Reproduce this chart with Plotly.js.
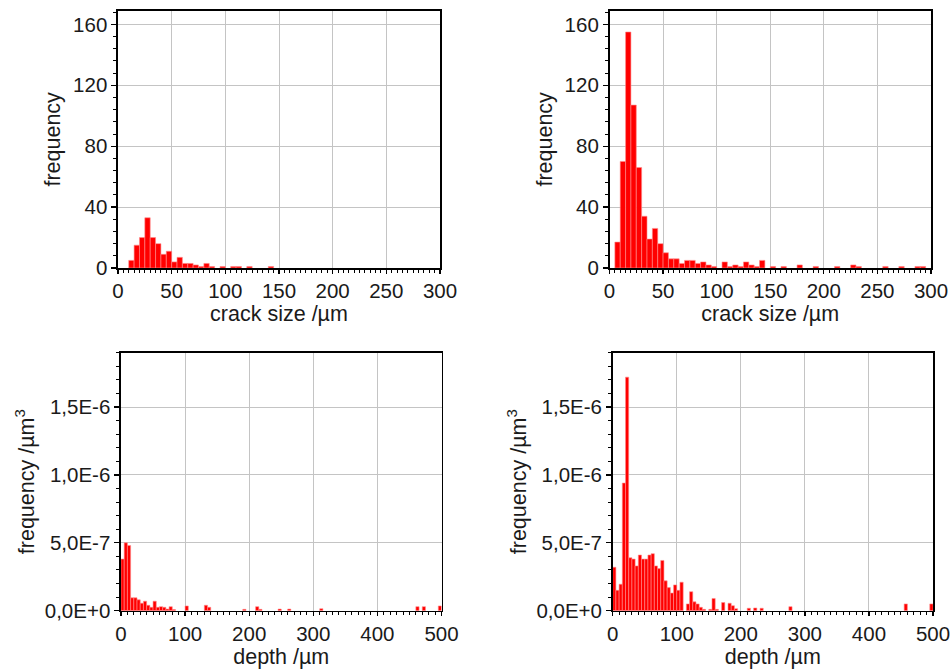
<!DOCTYPE html>
<html>
<head>
<meta charset="utf-8">
<script src="https://cdn.plot.ly/plotly-3.0.1.min.js"></script>
<style>html,body{margin:0;padding:0;background:#fff;}#chart{width:952px;height:669px;}</style>
</head>
<body>
<div id="chart"></div>
<script>
// Top-left: crack size histogram (bin centers, 5 µm bins)
const tlSize = [12.5,17.5,22.5,27.5,32.5,37.5,42.5,47.5,52.5,57.5,62.5,67.5,72.5,77.5,82.5,87.5,97.5,107.5,112.5,122.5,142.5];
const tlFreq = [5,15,20,33,20,16,9,11,4,7,3,3,2,1,3,1,1,1,1,1,1];

// Top-right: crack size histogram
const trSize = [7.5,12.5,17.5,22.5,27.5,32.5,37.5,42.5,47.5,52.5,57.5,62.5,67.5,72.5,77.5,82.5,87.5,92.5,97.5,107.5,112.5,117.5,122.5,127.5,132.5,137.5,142.5,152.5,162.5,177.5,192.5,212.5,227.5,232.5,257.5,272.5,287.5,292.5];
const trFreq = [17,70,155,107,66,34,19,26,16,10,6,6,3,5,5,3,4,2,1,4,1,2,1,4,2,1,5,1,1,2,1,1,2,1,1,1,1,1];

// Bottom-left: depth histogram (frequency per µm³)
const blDepth = [2.5,7.5,12.5,17.5,22.5,27.5,32.5,37.5,42.5,47.5,52.5,57.5,62.5,67.5,72.5,77.5,82.5,102.5,132.5,137.5,192.5,212.5,217.5,247.5,262.5,312.5,462.5,472.5,497.5];
const blFreq = [3.8e-7,5.0e-7,4.8e-7,9.5e-8,9.5e-8,8e-8,5.5e-8,7e-8,4e-8,2.5e-8,7e-8,2.5e-8,3e-8,2.5e-8,1.2e-8,3e-8,8e-9,3.5e-8,4e-8,2.5e-8,1e-8,3e-8,1e-8,1.2e-8,1.2e-8,1.5e-8,3e-8,3e-8,3.5e-8];

// Bottom-right: depth histogram
const brDepth = [2.5,7.5,12.5,17.5,22.5,27.5,32.5,37.5,42.5,47.5,52.5,57.5,62.5,67.5,72.5,77.5,82.5,87.5,92.5,97.5,102.5,107.5,117.5,122.5,127.5,132.5,137.5,142.5,152.5,157.5,162.5,172.5,182.5,187.5,192.5,212.5,222.5,232.5,277.5,457.5,497.5];
const brFreq = [3.2e-7,1.5e-7,1.95e-7,9.4e-7,1.72e-6,3.9e-7,3.8e-7,3.3e-7,4.1e-7,3.8e-7,3.8e-7,4.1e-7,4.2e-7,3.3e-7,3.1e-7,3.7e-7,2.2e-7,1.7e-7,1.3e-7,1.9e-7,1.5e-7,2.1e-7,5e-8,1.4e-7,6.5e-8,5e-8,2.5e-8,1e-8,1e-8,9e-8,1e-8,6e-8,5.5e-8,3.7e-8,1.5e-8,1.8e-8,2e-8,1.8e-8,3e-8,5e-8,5e-8];

// Tick labels
const sizeTicks = [0,50,100,150,200,250,300];
const freqTicks = [0,40,80,120,160];
const depthTicks = [0,100,200,300,400,500];
const densTickVals = [0,5e-7,1e-6,1.5e-6];
const densTickText = ['0,0E+0','5,0E-7','1,0E-6','1,5E-6'];

const W = 952, H = 669;
const TICKFONT = {family: 'Liberation Sans, Arial, sans-serif', size: 20.5, color: '#1a1a1a'};
const TITLEFONT = {family: 'Liberation Sans, Arial, sans-serif', size: 21.5, color: '#1a1a1a'};

function dx(a, b) { return [a / W, b / W]; }
function dy(top, bottom) { return [1 - bottom / H, 1 - top / H]; }

function barTrace(x, y, xa, ya) {
  return {
    type: 'bar', x: x, y: y, width: 5, xaxis: xa, yaxis: ya,
    marker: {color: '#ff0000', line: {color: '#ff8c8c', width: 0.6}},
    hoverinfo: 'x+y', showlegend: false
  };
}

function xAxis(domain, anchor, ticks, maxv, minorStep, title) {
  return {
    domain: domain, anchor: anchor, range: [0, maxv],
    tickmode: 'array', tickvals: ticks, ticktext: ticks.map(String),
    ticks: 'outside', ticklen: 4, tickwidth: 1.3, tickcolor: '#000',
    minor: {dtick: minorStep, tick0: 0, ticks: 'outside', ticklen: 3, tickwidth: 1, tickcolor: '#000', showgrid: false},
    showline: true, linecolor: '#000', linewidth: 1.6, mirror: true,
    showgrid: true, gridcolor: '#c4c4c4', gridwidth: 1,
    zeroline: false, tickfont: TICKFONT,
    title: {text: title, font: TITLEFONT, standoff: 5}
  };
}

function yAxis(domain, anchor, tickvals, ticktext, maxv, minorStep, title, standoff) {
  return {
    domain: domain, anchor: anchor, range: [0, maxv],
    tickmode: 'array', tickvals: tickvals, ticktext: ticktext,
    ticks: 'outside', ticklen: 5, tickwidth: 1.3, tickcolor: '#000',
    minor: {dtick: minorStep, tick0: 0, ticks: 'outside', ticklen: 3, tickwidth: 1, tickcolor: '#000', showgrid: false},
    showline: true, linecolor: '#000', linewidth: 1.6, mirror: true,
    showgrid: true, gridcolor: '#c4c4c4', gridwidth: 1,
    zeroline: false, tickfont: TICKFONT,
    title: {text: title, font: TITLEFONT, standoff: standoff}
  };
}

const data = [
  barTrace(tlSize, tlFreq, 'x', 'y'),
  barTrace(trSize, trFreq, 'x2', 'y2'),
  barTrace(blDepth, blFreq, 'x3', 'y3'),
  barTrace(brDepth, brFreq, 'x4', 'y4')
];

const layout = {
  width: W, height: H,
  margin: {l: 0, r: 0, t: 0, b: 0},
  paper_bgcolor: '#fff', plot_bgcolor: '#fff',
  bargap: 0, barmode: 'overlay',
  font: TICKFONT, showlegend: false,
  xaxis:  xAxis(dx(118, 440), 'y',  sizeTicks, 300, 5, 'crack size /µm'),
  yaxis:  yAxis(dy(10.7, 268), 'x',  freqTicks, freqTicks.map(String), 169, 8, 'frequency', 6),
  xaxis2: xAxis(dx(609.5, 931), 'y2', sizeTicks, 300, 5, 'crack size /µm'),
  yaxis2: yAxis(dy(10.7, 268), 'x2', freqTicks, freqTicks.map(String), 169, 8, 'frequency', 6),
  xaxis3: xAxis(dx(121, 441.5), 'y3', depthTicks, 500, 10, 'depth /µm'),
  yaxis3: yAxis(dy(352.7, 610.7), 'x3', densTickVals, densTickText, 1.9e-6, 1e-7, 'frequency /µm<sup>3</sup>', 4),
  xaxis4: xAxis(dx(612.7, 933), 'y4', depthTicks, 500, 10, 'depth /µm'),
  yaxis4: yAxis(dy(352.7, 610.7), 'x4', densTickVals, densTickText, 1.9e-6, 1e-7, 'frequency /µm<sup>3</sup>', 4)
};

Plotly.newPlot('chart', data, layout, {displayModeBar: false, staticPlot: true});
</script>
</body>
</html>
